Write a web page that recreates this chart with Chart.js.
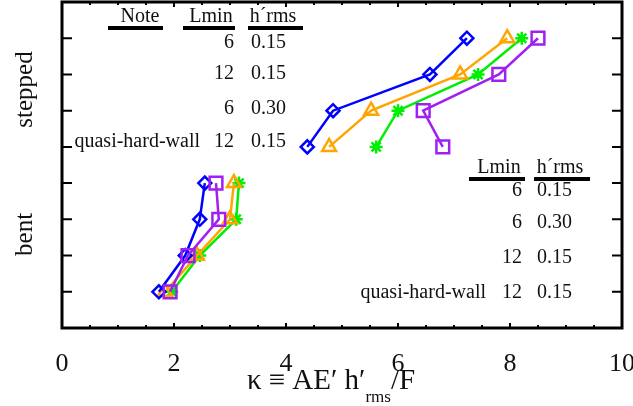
<!DOCTYPE html>
<html>
<head>
<meta charset="utf-8">
<script src="https://cdn.jsdelivr.net/npm/chart.js@4"></script>
<style>
  html, body { margin: 0; padding: 0; background: #fff; }
</style>
</head>
<body>
<canvas id="kappaChart" width="633" height="406"></canvas>
<script>
// rows on the y axis: stepped runs sit on 8..5, bent runs on 4..1
const steppedRows = [8, 7, 6, 5];
const bentRows = [4, 3, 2, 1];

// kappa values
const blueStepped = [7.23, 6.57, 4.84, 4.38];
const blueBent = [2.55, 2.46, 2.20, 1.73];
const orangeStepped = [7.95, 7.11, 5.52, 4.77];
const orangeBent = [3.07, 3.00, 2.41, 1.84];
const greenStepped = [8.21, 7.43, 6.00, 5.61];
const greenBent = [3.16, 3.11, 2.46, 1.96];
const purpleStepped = [8.50, 7.80, 6.45, 6.80];
const purpleBent = [2.75, 2.80, 2.25, 1.93];

const yTicks = [1, 2, 3, 4, 5, 6, 7, 8];
const xTicks = [0, 0.5, 1, 1.5, 2, 2.5, 3, 3.5, 4, 4.5, 5, 5.5, 6, 6.5, 7, 7.5, 8, 8.5, 9, 9.5, 10];

const groupLabels = ['stepped', 'bent'];
const groupCenters = [6.5, 2.5];

// the two little tables of run parameters
const topTable = {
  headers: ['Note', 'Lmin', 'h\u00b4rms'],
  notes: ['', '', '', 'quasi-hard-wall'],
  lmin: ['6', '12', '6', '12'],
  hrms: ['0.15', '0.15', '0.30', '0.15']
};
const rightTable = {
  headers: ['Lmin', 'h\u00b4rms'],
  notes: ['', '', '', 'quasi-hard-wall'],
  lmin: ['6', '6', '12', '12'],
  hrms: ['0.15', '0.30', '0.15', '0.15']
};

const serif = "'Liberation Serif', 'DejaVu Serif', serif";

function series(label, color, style, radius, xs, ys) {
  return {
    label: label,
    data: xs.map((v, i) => ({ x: v, y: ys[i] })),
    borderColor: color,
    backgroundColor: 'rgba(0,0,0,0)',
    pointBorderColor: color,
    pointBackgroundColor: 'rgba(0,0,0,0)',
    pointStyle: style,
    pointRadius: radius,
    pointHoverRadius: radius,
    pointBorderWidth: 2.5,
    borderWidth: 2.5,
    showLine: true,
    tension: 0
  };
}

const blue = '#0000ff', orange = '#ffa500', green = '#00ee00', purple = '#a020f0';

const frame = {
  id: 'frame',
  afterDraw(chart) {
    const { ctx, chartArea: a, scales: { x, y } } = chart;
    ctx.save();
    ctx.strokeStyle = '#000';
    ctx.lineWidth = 3;
    ctx.strokeRect(a.left, a.top, a.right - a.left, a.bottom - a.top);

    ctx.lineWidth = 2;
    ctx.beginPath();
    yTicks.forEach(v => {
      const py = y.getPixelForValue(v);
      ctx.moveTo(a.left, py); ctx.lineTo(a.left + 10, py);
      ctx.moveTo(a.right, py); ctx.lineTo(a.right - 10, py);
    });
    xTicks.forEach(v => {
      const px = x.getPixelForValue(v);
      const len = v % 2 === 0 ? 5 : 3;
      ctx.moveTo(px, a.bottom); ctx.lineTo(px, a.bottom - len);
      ctx.moveTo(px, a.top); ctx.lineTo(px, a.top + len);
    });
    ctx.stroke();

    // group names on the left
    ctx.fillStyle = '#111';
    ctx.font = '25px ' + serif;
    ctx.textAlign = 'center';
    ctx.textBaseline = 'alphabetic';
    groupLabels.forEach((t, i) => {
      ctx.save();
      ctx.translate(32, y.getPixelForValue(groupCenters[i]) - 3);
      ctx.rotate(-Math.PI / 2);
      ctx.fillText(t, 0, 0);
      ctx.restore();
    });

    // x axis title with subscript
    const main = '\u03ba \u2261 AE\u2032 h\u2032', sub = 'rms', tail = '/F';
    ctx.font = '29px ' + serif;
    const wMain = ctx.measureText(main).width;
    const wTail = ctx.measureText(tail).width;
    ctx.font = '17px ' + serif;
    const wSub = ctx.measureText(sub).width;
    let tx = 331 - (wMain + wSub + wTail) / 2;
    ctx.textAlign = 'left';
    ctx.font = '29px ' + serif;
    ctx.fillText(main, tx, 389);
    tx += wMain;
    ctx.font = '17px ' + serif;
    ctx.fillText(sub, tx, 402);
    tx += wSub;
    ctx.font = '29px ' + serif;
    ctx.fillText(tail, tx, 389);

    // tables
    ctx.font = '20px ' + serif;
    ctx.fillStyle = '#111';
    // top-left
    ctx.textAlign = 'center';
    ctx.fillText(topTable.headers[0], 140, 22);
    ctx.fillText(topTable.headers[1], 211, 22);
    ctx.fillText(topTable.headers[2], 273, 22);
    ctx.fillStyle = '#000';
    ctx.fillRect(108, 26, 55, 4);
    ctx.fillRect(183, 26, 52, 4);
    ctx.fillRect(248, 26, 55, 4);
    ctx.fillStyle = '#111';
    const topBase = [48, 79, 114, 147];
    topBase.forEach((b, i) => {
      ctx.textAlign = 'right';
      ctx.fillText(topTable.notes[i], 200, b);
      ctx.fillText(topTable.lmin[i], 234, b);
      ctx.textAlign = 'left';
      ctx.fillText(topTable.hrms[i], 251, b);
    });
    // right
    ctx.textAlign = 'center';
    ctx.fillText(rightTable.headers[0], 499, 173);
    ctx.fillText(rightTable.headers[1], 560, 173);
    ctx.fillStyle = '#000';
    ctx.fillRect(469, 177, 56, 4);
    ctx.fillRect(534, 177, 56, 4);
    ctx.fillStyle = '#111';
    const rightBase = [196, 228, 263, 298];
    rightBase.forEach((b, i) => {
      ctx.textAlign = 'right';
      ctx.fillText(rightTable.notes[i], 486, b);
      ctx.fillText(rightTable.lmin[i], 522, b);
      ctx.textAlign = 'left';
      ctx.fillText(rightTable.hrms[i], 537, b);
    });
    ctx.restore();
  }
};

const ctx = document.getElementById('kappaChart').getContext('2d');
new Chart(ctx, {
  type: 'scatter',
  data: {
    datasets: [
      series('purple stepped', purple, 'rect', 9, purpleStepped, steppedRows),
      series('purple bent', purple, 'rect', 9, purpleBent, bentRows),
      series('blue stepped', blue, 'rectRot', 6.5, blueStepped, steppedRows),
      series('blue bent', blue, 'rectRot', 6.5, blueBent, bentRows),
      series('orange stepped', orange, 'triangle', 8, orangeStepped, steppedRows),
      series('orange bent', orange, 'triangle', 8, orangeBent, bentRows),
      series('green stepped', green, 'star', 6.5, greenStepped, steppedRows),
      series('green bent', green, 'star', 6.5, greenBent, bentRows)
    ]
  },
  options: {
    responsive: false,
    animation: false,
    layout: { autoPadding: false, padding: { left: 62, right: 11, top: 2, bottom: 0 } },
    plugins: { legend: { display: false }, tooltip: { enabled: false } },
    scales: {
      x: {
        type: 'linear',
        min: 0,
        max: 10,
        grid: { display: false },
        border: { display: false },
        ticks: {
          stepSize: 2,
          padding: 13,
          color: '#111',
          font: { family: serif, size: 26 }
        },
        afterFit(scale) {
          scale.height = 78;
          scale.paddingLeft = 0;
          scale.paddingRight = 0;
        }
      },
      y: {
        type: 'linear',
        min: 0,
        max: 9,
        display: false
      }
    }
  },
  plugins: [frame]
});
</script>
</body>
</html>
